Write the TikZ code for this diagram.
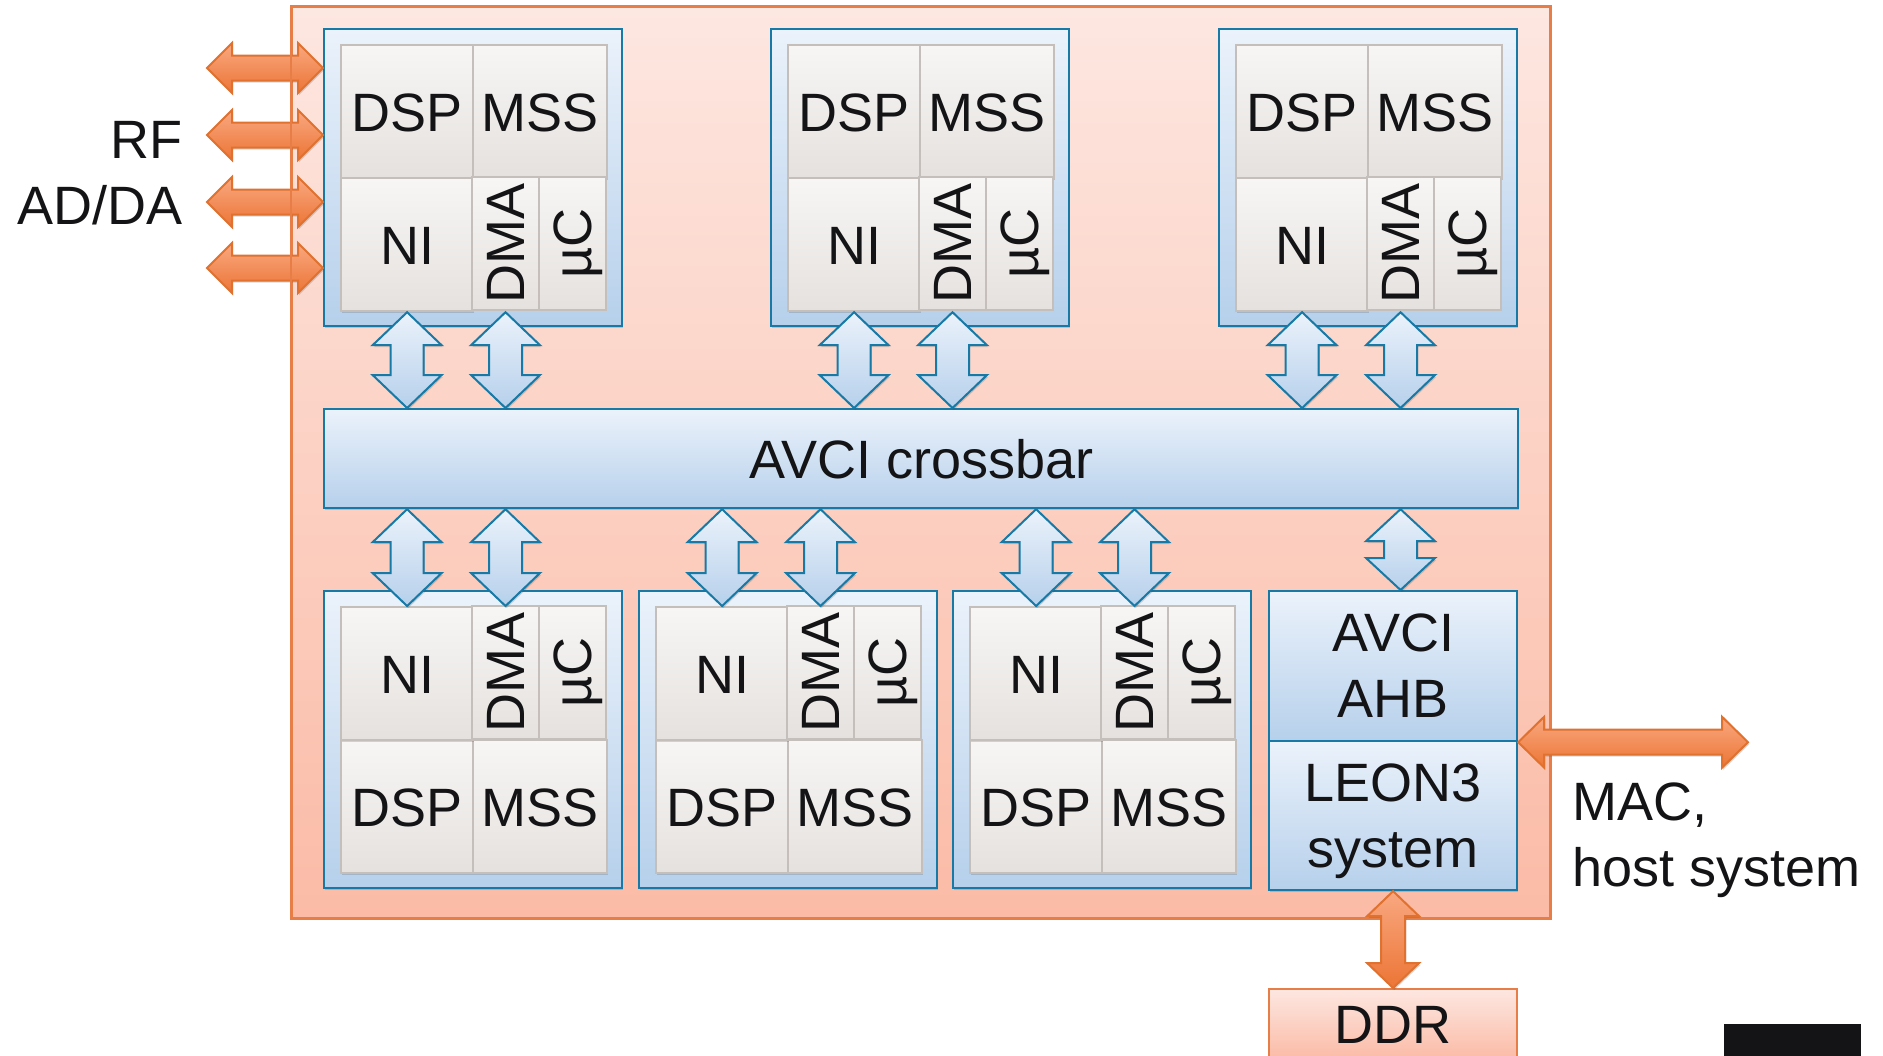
\documentclass[tikz,border=0pt]{standalone}
\usepackage{fontspec}
\setmainfont{Liberation Sans}
\usetikzlibrary{calc,shadows}

\definecolor{pinkTop}{HTML}{FDE7E1}
\definecolor{pinkBot}{HTML}{FBBBA6}
\definecolor{pinkLine}{HTML}{E77E48}
\definecolor{blueTop}{HTML}{EBF2FB}
\definecolor{blueBot}{HTML}{B6D0EB}
\definecolor{blueLine}{HTML}{1679A6}
\definecolor{greyTop}{HTML}{F7F6F5}
\definecolor{greyBot}{HTML}{E5E1DE}
\definecolor{greyLine}{HTML}{C4BFBB}
\definecolor{orTop}{HTML}{F9A881}
\definecolor{orBot}{HTML}{EC7535}
\definecolor{orLine}{HTML}{E0712F}
\definecolor{ink}{HTML}{141416}

\tikzset{
  soft shadow/.style={drop shadow={shadow xshift=0.6pt, shadow yshift=-1pt, opacity=0.22, fill=black!70}},
  lbl/.style={font=\fontsize{27pt}{33pt}\selectfont, text=ink, inner sep=0pt},
  capc/.style={text height=19.4pt, text depth=0pt},
  chip/.style={draw=pinkLine, line width=1pt, top color=pinkTop, bottom color=pinkBot, soft shadow,
    anchor=north west, inner sep=0pt},
  tilebox/.style={draw=blueLine, line width=1.1pt, top color=blueTop, bottom color=blueBot, soft shadow,
    anchor=north west, lbl},
  cell/.style={draw=greyLine, line width=1.1pt, top color=greyTop, bottom color=greyBot,
    anchor=north west, lbl, capc},
  hcell/.style={cell, soft shadow},
  vcell/.style={cell, anchor=center, rotate=90, minimum width=66.5pt, minimum height=33.5pt},
  blink/.style={draw=blueLine, line width=1pt, line join=miter, top color=blueTop, bottom color=blueBot, soft shadow},
  olink/.style={draw=orLine, line width=1pt, line join=miter, top color=orTop, bottom color=orBot, soft shadow},
  memblock/.style={draw=pinkLine, line width=1pt, top color=pinkTop, bottom color=pinkBot, soft shadow,
    anchor=north west, lbl, capc},
}

% vertical double arrow: style, upper end, lower end, head length, head half width, shaft half width
\newcommand\vlink[6]{%
  \path[#1] let \p1=(#2), \p2=(#3) in
    (\x1,\y1) -- (\x1+#5,\y1-#4) -- (\x1+#6,\y1-#4) -- (\x1+#6,\y2+#4)
    -- (\x1+#5,\y2+#4) -- (\x1,\y2) -- (\x1-#5,\y2+#4) -- (\x1-#6,\y2+#4)
    -- (\x1-#6,\y1-#4) -- (\x1-#5,\y1-#4) -- cycle;}

% horizontal double arrow: style, left end, right end, head length, head half width, shaft half width
\newcommand\hlink[6]{%
  \path[#1] let \p1=(#2), \p2=(#3) in
    (\x1,\y1) -- (\x1+#4,\y1+#5) -- (\x1+#4,\y1+#6) -- (\x2-#4,\y1+#6)
    -- (\x2-#4,\y1+#5) -- (\x2,\y1) -- (\x2-#4,\y1-#5) -- (\x2-#4,\y1-#6)
    -- (\x1+#4,\y1-#6) -- (\x1+#4,\y1-#5) -- cycle;}

% processing tile: name, left, top, top of DSP/MSS row, top of NI/DMA/uC row
\newcommand\tile[5]{%
  \node[tilebox, minimum width=149pt, minimum height=148.5pt, inner sep=0pt] (#1) at (#2,#3) {};
  \node[hcell, minimum width=66pt, minimum height=66.5pt] (#1-dsp) at (#2+17,#4) {DSP};
  \node[hcell, minimum width=67pt, minimum height=66.5pt] (#1-mss) at (#2+149,#4) {MSS};
  \node[hcell, minimum width=66pt, minimum height=66.5pt] (#1-ni) at (#2+17,#5) {NI};
  \node[vcell] (#1-dma) at (#2+182.5,#5+66.5) {DMA};
  \node[vcell] (#1-uc) at (#2+249.5,#5+66.5) {µC};
}

\begin{document}
\begin{tikzpicture}[x=0.5pt, y=-0.5pt]
\useasboundingbox (0,0) rectangle (1883,1055);

% chip outline
\node[chip, minimum width=629pt, minimum height=455.5pt] (chip) at (291,6) {};

% RF / AD-DA links
\coordinate (rf1) at (207,68);
\coordinate (rf2) at (207,135);
\coordinate (rf3) at (207,202);
\coordinate (rf4) at (207,268);
\node[lbl, align=right, anchor=east] (rf) at (183,173) {RF\\AD/DA};

% tiles above the crossbar
\tile{m1}{323}{28}{44}{177}
\tile{m2}{770}{28}{44}{177}
\tile{m3}{1218}{28}{44}{177}

\foreach \c in {rf1,rf2,rf3,rf4}
  \hlink{olink}{\c}{m1.west |- \c}{12.5pt}{12.5pt}{6.25pt};
\draw[pinkLine, line width=1pt] (chip.north west) rectangle (chip.south east);

% crossbar
\node[tilebox, capc, inner sep=0pt, minimum width=597pt, minimum height=49.5pt] (xbar) at (323,408) {AVCI crossbar};

% tiles below the crossbar
\tile{b1}{323}{590}{739}{606}
\tile{b2}{638}{590}{739}{606}
\tile{b3}{952}{590}{739}{606}

% bridge and control processor
\node[tilebox, inner sep=0pt, align=center, minimum width=124pt, minimum height=75pt] (ahb) at (1268,590) {AVCI\\AHB};
\node[tilebox, inner sep=0pt, align=center, text depth=-1.5pt, minimum width=124pt, minimum height=74.5pt] (leon) at (1268,740) {LEON3\\system};

% external memory
\node[memblock, minimum width=124pt, minimum height=35pt] (ddr) at (1268,988) {DDR};

% crossbar links
\foreach \m in {m1,m2,m3} {
  \vlink{blink}{\m-ni.south}{\m-ni.south |- xbar.north}{16.5pt}{17.25pt}{8.25pt}
  \vlink{blink}{\m-dma.center |- \m-ni.south}{\m-dma.center |- xbar.north}{16.5pt}{17.25pt}{8.25pt}
}
\foreach \m in {b1,b2,b3} {
  \vlink{blink}{\m-ni.north |- xbar.south}{\m-ni.north}{16.5pt}{17.25pt}{8.25pt}
  \vlink{blink}{\m-dma.center |- xbar.south}{\m-dma.center |- \m-ni.north}{16.5pt}{17.25pt}{8.25pt}
}
\vlink{blink}{m3-dma.center |- xbar.south}{m3-dma.center |- ahb.north}{16pt}{17.25pt}{8.25pt}

% host and memory links
\coordinate (macend) at (1748,741);
\hlink{olink}{ahb.south east}{macend}{13pt}{12.75pt}{6.25pt}
\vlink{olink}{leon.south}{ddr.north}{12.5pt}{13pt}{6pt}
\node[lbl, align=left, anchor=west] (mac) at (1572,840) {MAC,\\host system};

\fill[ink] (1724,1024) rectangle (1861,1062);
\end{tikzpicture}
\end{document}
